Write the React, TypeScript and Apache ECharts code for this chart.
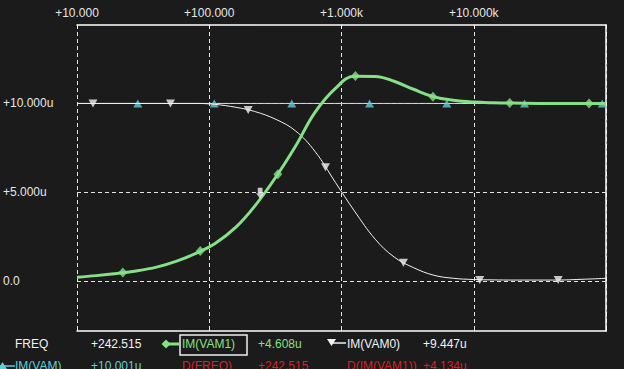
import React, { useEffect, useRef } from "react";
import * as echarts from "echarts";

// ---- axes ----
const xMin = 10;
const xMax = 100000;
const yMin = -2.82;
const yMax = 14.42;
const yTickValues = [0, 5, 10];

// ---- shared frequency grid for the traces ----
const traceFreq = [10, 14, 20, 28, 40, 56, 80, 110, 160, 220, 320, 450, 630, 900, 1250, 1800, 2500, 3500, 5000, 7000, 10000, 14000, 20000, 40000, 70000, 100000];

// ---- IM(VAM1) : green, thick ----
const vam1Values = [0.21, 0.3, 0.42, 0.56, 0.78, 1.1, 1.57, 2.1, 3.05, 4.2, 5.87, 7.6, 9.5, 10.85, 11.53, 11.52, 11.25, 10.8, 10.37, 10.18, 10.08, 10.04, 10.02, 10.0, 10.0, 10.0];
const vam1MarkFreq = [22.2, 85.5, 330, 1274, 4917, 18700, 74500];
const vam1MarkValues = [0.47, 1.69, 6.01, 11.55, 10.38, 10.02, 10.0];

// ---- IM(VAM0) : white, thin ----
const vam0Values = [10.0, 10.0, 10.0, 10.0, 10.0, 10.0, 10.0, 9.95, 9.78, 9.55, 9.1, 8.45, 7.3, 5.55, 3.95, 2.35, 1.35, 0.75, 0.32, 0.15, 0.08, 0.06, 0.05, 0.05, 0.1, 0.15];
const vam0MarkFreq = [13.2, 50.9, 197, 757, 2940, 11100, 43500];
const vam0MarkValues = [10.0, 10.0, 9.63, 6.41, 1.03, 0.06, 0.05];

// ---- IM(VAM) : cyan, flat ----
const vamFreq = [10, 100000];
const vamValues = [10.001, 10.001];
const vamMarkFreq = [28.8, 109, 421, 1630, 6250, 24200, 93600];
const vamMarkValues = [10.001, 10.001, 10.001, 10.001, 10.001, 10.001, 10.001];

// ---- cursor ----
const cursorFreq = [242.515];
const cursorValue = [4.608];

// ---- readout texts ----
const row1Labels = ["FREQ", "+242.515", "IM(VAM1)", "+4.608u", "IM(VAM0)", "+9.447u"];
const row2Labels = ["IM(VAM)", "+10.001u", "D(FREQ)", "+242.515", "D(IM(VAM1))", "+4.134u"];

const GREEN = "#86e086";
const WHITE = "#f2f2f2";
const CYAN_LINE = "#b4e4ec";
const CYAN_MARK = "#62cdd8";
const RED = "#d42424";
const FONT = '12px "Liberation Sans", Arial, sans-serif';

function fmtX(v: number): string {
  if (v >= 1000) return "+" + (v / 1000).toFixed(3) + "k";
  return "+" + v.toFixed(3);
}
function fmtY(v: number): string {
  if (v === 0) return "0.0";
  return "+" + v.toFixed(3) + "u";
}

export default function App() {
  const ref = useRef<HTMLDivElement>(null);
  useEffect(() => {
    const chart = echarts.init(ref.current!, null, { renderer: "svg" });
    const dashed = { color: "#e4e4e4", width: 1, type: [4, 3] as any };
    const row1X = [15, 91, 182, 258, 347, 423];
    const row1Colors = [WHITE, WHITE, GREEN, GREEN, WHITE, WHITE];
    const row2X = [15, 91, 182, 258, 347, 423];
    const row2Colors = [CYAN_MARK, CYAN_MARK, RED, RED, RED, RED];
    const texts: any[] = [];
    row1Labels.forEach((t, i) =>
      texts.push({ type: "text", x: row1X[i], y: 344, style: { text: t, fill: row1Colors[i], font: FONT, verticalAlign: "middle" } })
    );
    row2Labels.forEach((t, i) =>
      texts.push({ type: "text", x: row2X[i], y: 366, style: { text: t, fill: row2Colors[i], font: FONT, verticalAlign: "middle" } })
    );
    const axisFont = { color: "#e6e6e6", fontFamily: '"Liberation Sans", Arial, sans-serif', fontSize: 12 };
    const option: any = {
      animation: false,
      backgroundColor: "#1b1b1b",
      grid: { left: 75, top: 25, width: 531, height: 306, containLabel: false },
      xAxis: [
        {
          type: "log",
          logBase: 10,
          min: xMin,
          max: xMax,
          position: "top",
          axisLine: { show: true, onZero: false, lineStyle: { color: "#ffffff", width: 1.5 } },
          axisTick: { show: true, inside: true, length: 4, lineStyle: { color: "#ffffff" } },
          axisLabel: { ...axisFont, margin: 6, showMaxLabel: false, formatter: (v: number) => fmtX(v) },
          splitLine: { show: true, lineStyle: dashed },
          minorTick: { show: false },
          minorSplitLine: { show: false },
        },
        {
          type: "log",
          logBase: 10,
          min: xMin,
          max: xMax,
          position: "bottom",
          axisLine: { show: true, onZero: false, lineStyle: { color: "#ffffff", width: 1.5 } },
          axisTick: { show: true, inside: true, length: 3, lineStyle: { color: "#ffffff" } },
          axisLabel: { show: false },
          splitLine: { show: false },
        },
      ],
      yAxis: [
        {
          type: "value",
          min: yMin,
          max: yMax,
          position: "left",
          axisLine: { show: false, onZero: false },
          axisTick: { show: false, customValues: yTickValues },
          axisLabel: { ...axisFont, customValues: yTickValues, align: "left", margin: 74, formatter: (v: number) => fmtY(v) },
          splitLine: { show: true, lineStyle: dashed },
        },
        {
          type: "value",
          min: yMin,
          max: yMax,
          position: "right",
          axisLine: { show: true, onZero: false, lineStyle: { color: "#ffffff", width: 1.5 } },
          axisTick: { show: false },
          axisLabel: { show: false },
          splitLine: { show: false },
        },
      ],
      series: [
        {
          type: "line",
          name: "IM(VAM)",
          data: vamFreq.map((f, i) => [f, vamValues[i]]),
          showSymbol: false,
          lineStyle: { color: CYAN_LINE, width: 1 },
          z: 2,
        },
        {
          type: "scatter",
          data: vamMarkFreq.map((f, i) => [f, vamMarkValues[i]]),
          symbol: "triangle",
          symbolSize: [9, 8],
          itemStyle: { color: CYAN_MARK },
          z: 3,
        },
        {
          type: "line",
          name: "IM(VAM0)",
          data: traceFreq.map((f, i) => [f, vam0Values[i]]),
          showSymbol: false,
          smooth: 0.4,
          lineStyle: { color: WHITE, width: 1 },
          z: 4,
        },
        {
          type: "scatter",
          data: vam0MarkFreq.map((f, i) => [f, vam0MarkValues[i]]),
          symbol: "triangle",
          symbolRotate: 180,
          symbolSize: [9, 8],
          itemStyle: { color: WHITE },
          z: 5,
        },
        {
          type: "line",
          name: "IM(VAM1)",
          data: traceFreq.map((f, i) => [f, vam1Values[i]]),
          showSymbol: false,
          smooth: 0.4,
          lineStyle: { color: GREEN, width: 3 },
          z: 6,
        },
        {
          type: "scatter",
          data: vam1MarkFreq.map((f, i) => [f, vam1MarkValues[i]]),
          symbol: "diamond",
          symbolSize: [9, 10],
          itemStyle: { color: GREEN },
          z: 7,
        },
        {
          type: "scatter",
          data: cursorFreq.map((f, i) => [f, cursorValue[i]]),
          symbol: "path://M2,0H8V5H10L5,10L0,5H2Z",
          symbolSize: [8, 11],
          symbolOffset: [0, -6],
          itemStyle: { color: "#f6eef6" },
          z: 8,
        },
      ],
      graphic: [
        ...texts,
        { type: "rect", shape: { x: 180, y: 335, width: 67, height: 20 }, style: { fill: "none", stroke: "#f0f0f0", lineWidth: 1.5 } },
        { type: "line", shape: { x1: 163, y1: 344, x2: 180, y2: 344 }, style: { stroke: GREEN, lineWidth: 3 } },
        { type: "polygon", shape: { points: [[166, 339.5], [170.5, 344], [166, 348.5], [161.5, 344]] }, style: { fill: GREEN } },
        { type: "line", shape: { x1: 330, y1: 343, x2: 346, y2: 343 }, style: { stroke: WHITE, lineWidth: 1.5 } },
        { type: "polygon", shape: { points: [[327, 339], [336, 339], [331.5, 346]] }, style: { fill: WHITE } },
        { type: "line", shape: { x1: 0, y1: 366, x2: 15, y2: 366 }, style: { stroke: CYAN_MARK, lineWidth: 1.5 } },
        { type: "polygon", shape: { points: [[-2, 369], [7, 369], [2.5, 362]] }, style: { fill: CYAN_MARK } },
      ],
    };
    chart.setOption(option);
    return () => chart.dispose();
  }, []);
  return <div ref={ref} style={{ position: "fixed", left: 0, top: 0, width: 624, height: 369 }} />;
}
